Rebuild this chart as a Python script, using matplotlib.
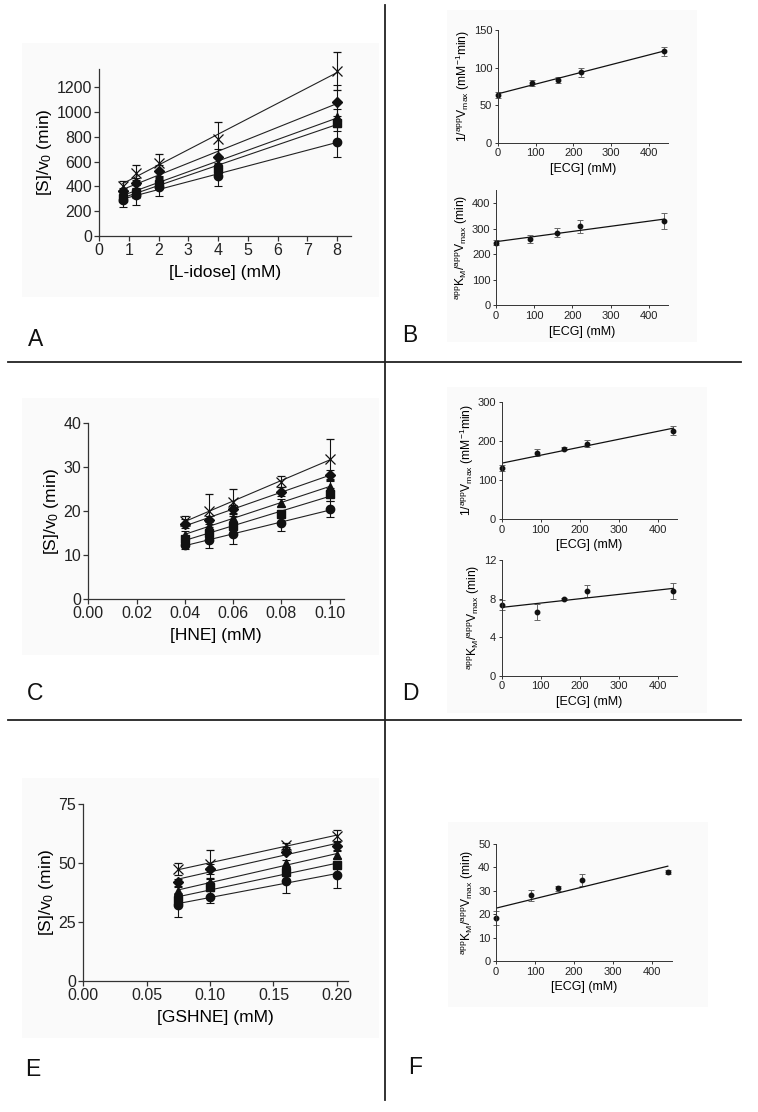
import matplotlib
matplotlib.use("Agg")
import matplotlib.pyplot as plt
import numpy as np
from matplotlib.patches import Rectangle
from matplotlib.lines import Line2D

plt.rcParams['font.family'] = ['Liberation Sans', 'DejaVu Sans']
plt.rcParams['mathtext.default'] = 'regular'

W, H = 758, 1112

# markers for the five inhibitor concentrations (bottom -> top)
markers = ['o', 's', '^', 'D', 'x']

# panel A: L-idose
a_x = [0.8, 1.25, 2, 4, 8]
a_y = [[290, 330, 395, 480, 760],
       [310, 350, 420, 540, 910],
       [330, 370, 440, 580, 960],
       [360, 430, 525, 640, 1080],
       [400, 510, 590, 780, 1330]]
a_err = [[60, 80, 70, 80, 120],
         [30, 40, 40, 50, 60],
         [30, 40, 40, 50, 60],
         [30, 40, 50, 60, 140],
         [40, 60, 70, 140, 150]]

# panel C: HNE
c_x = [0.04, 0.05, 0.06, 0.08, 0.10]
c_y = [[12.3, 13.4, 14.8, 17.3, 20.4],
       [13.6, 15.0, 16.6, 19.4, 23.8],
       [14.6, 16.6, 18.5, 21.9, 25.6],
       [17.1, 18.0, 20.4, 24.4, 28.2],
       [17.8, 20.1, 22.0, 26.7, 31.9]]
c_err = [[1.0, 1.8, 2.2, 1.8, 1.8],
         [0.8, 1.0, 1.0, 0.8, 1.5],
         [0.8, 1.0, 1.0, 0.8, 1.2],
         [1.0, 1.0, 1.0, 1.0, 1.2],
         [1.2, 3.8, 3.0, 1.3, 4.5]]

# panel E: GSHNE
e_x = [0.075, 0.10, 0.16, 0.20]
e_y = [[32.3, 35.8, 42.5, 44.9],
       [34.4, 40.0, 46.4, 49.1],
       [38.3, 41.9, 50.0, 53.5],
       [41.9, 47.5, 54.9, 57.3],
       [47.5, 49.7, 57.7, 61.7]]
e_err = [[5.0, 2.5, 5.2, 5.5],
         [1.5, 2.0, 1.5, 1.5],
         [1.5, 1.5, 1.5, 1.5],
         [1.5, 2.0, 1.0, 1.5],
         [2.5, 5.8, 1.0, 2.2]]

# secondary plots vs [ECG]
ecg = [0, 90, 160, 220, 440]
b1_y = [64, 79, 84, 94, 122]
b1_err = [4, 4, 4, 6, 6]
b2_y = [245, 260, 285, 310, 330]
b2_err = [10, 15, 18, 25, 30]
d1_y = [130, 170, 180, 193, 226]
d1_err = [8, 10, 4, 10, 12]
d2_y = [7.3, 6.6, 8.0, 8.8, 8.8]
d2_err = [0.5, 0.8, 0.1, 0.6, 0.8]
f_y = [18.5, 28, 31, 34.5, 38]
f_err = [3, 2.5, 1, 2.5, 1]

lbl_inv_vmax = r'1/$^{app}$V$_{max}$ (mM$^{-1}$min)'
lbl_km_vmax = r'$^{app}$K$_M$/$^{app}$V$_{max}$ (min)'

fig = plt.figure(figsize=(W / 100, H / 100), dpi=100)
fig.patch.set_facecolor('white')


def px_rect(l, t, r, b):
    return [l / W, 1 - b / H, (r - l) / W, (b - t) / H]


def bg(l, t, r, b):
    x0, y0, w, h = px_rect(l, t, r, b)
    fig.patches.append(Rectangle((x0, y0), w, h, transform=fig.transFigure,
                                 facecolor='#fafafa', edgecolor='none', zorder=-5))


def make_ax(l, t, r, b, big):
    ax = fig.add_axes(px_rect(l, t, r, b))
    ax.set_facecolor('none')
    for s in ['top', 'right']:
        ax.spines[s].set_visible(False)
    for s in ['left', 'bottom']:
        ax.spines[s].set_linewidth(0.9 if big else 0.7)
        ax.spines[s].set_color('#333333')
    ax.tick_params(direction='out', length=3.5 if big else 2.5,
                   width=0.9 if big else 0.7, color='#333333',
                   labelsize=11.5 if big else 8, labelcolor='#222222',
                   pad=1.5)
    return ax


def big_panel(ax, x, ys, errs):
    xs = np.array(x)
    for m, y, e in zip(markers, ys, errs):
        if m == 'x':
            ax.errorbar(x, y, yerr=e, fmt='x', ms=7.5, mew=0.9, color='#111111',
                        elinewidth=0.8, capsize=3, capthick=0.8, clip_on=False)
        else:
            ax.errorbar(x, y, yerr=e, fmt=m, ms=6 if m != 'D' else 5.5,
                        color='#111111', elinewidth=0.8, capsize=3,
                        capthick=0.8, clip_on=False)
        k, c0 = np.polyfit(xs, y, 1)
        ax.plot([xs[0], xs[-1]], [k * xs[0] + c0, k * xs[-1] + c0],
                color='#222222', lw=0.8)


def small_panel(ax, y, e):
    xs = np.array(ecg)
    ax.errorbar(ecg, y, yerr=e, fmt='o', ms=3.2, color='#111111',
                ecolor='#666666', elinewidth=0.7, capsize=2, capthick=0.7,
                clip_on=False)
    k, c0 = np.polyfit(xs, y, 1)
    ax.plot([0, 440], [c0, k * 440 + c0], color='#111111', lw=0.9)
    ax.set_xlim(0, 450)
    ax.set_xticks([0, 100, 200, 300, 400])


# backgrounds
bg(22, 43, 379, 297)
bg(22, 398, 379, 655)
bg(22, 778, 379, 1038)
bg(447, 10, 697, 342)
bg(447, 387, 707, 713)
bg(448, 822, 708, 1007)

# A
ax = make_ax(99, 69, 351, 236, True)
big_panel(ax, a_x, a_y, a_err)
ax.set_xlim(0, 8.47)
ax.set_ylim(0, 1346)
ax.set_xticks(range(0, 9))
ax.set_yticks(range(0, 1201, 200))
ax.set_xlabel('[L-idose] (mM)', fontsize=12.5, labelpad=5)
ax.set_ylabel(r'[S]/v$_0$ (min)', fontsize=12.5, labelpad=2)

# C
ax = make_ax(88.3, 423.3, 344, 599, True)
big_panel(ax, c_x, c_y, c_err)
ax.set_xlim(0, 0.106)
ax.set_ylim(0, 40)
ax.set_xticks([0, 0.02, 0.04, 0.06, 0.08, 0.10])
ax.set_xticklabels(['0.00', '0.02', '0.04', '0.06', '0.08', '0.10'])
ax.set_yticks([0, 10, 20, 30, 40])
ax.set_xlabel('[HNE] (mM)', fontsize=12.5, labelpad=5)
ax.set_ylabel(r'[S]/v$_0$ (min)', fontsize=12.5, labelpad=2)

# E
ax = make_ax(83.3, 804.3, 348.3, 981, True)
big_panel(ax, e_x, e_y, e_err)
ax.set_xlim(0, 0.209)
ax.set_ylim(0, 75)
ax.set_xticks([0, 0.05, 0.10, 0.15, 0.20])
ax.set_xticklabels(['0.00', '0.05', '0.10', '0.15', '0.20'])
ax.set_yticks([0, 25, 50, 75])
ax.set_xlabel('[GSHNE] (mM)', fontsize=12.5, labelpad=5)
ax.set_ylabel(r'[S]/v$_0$ (min)', fontsize=12.5, labelpad=2)

# B
ax = make_ax(497.7, 30, 668, 142.7, False)
small_panel(ax, b1_y, b1_err)
ax.set_ylim(0, 150)
ax.set_yticks([0, 50, 100, 150])
ax.set_xlabel('[ECG] (mM)', fontsize=9, labelpad=3.5)
ax.set_ylabel(lbl_inv_vmax, fontsize=8.7, labelpad=1.5)

ax = make_ax(496, 190, 668, 305.3, False)
small_panel(ax, b2_y, b2_err)
ax.set_ylim(0, 452)
ax.set_yticks([0, 100, 200, 300, 400])
ax.set_xlabel('[ECG] (mM)', fontsize=9, labelpad=3.5)
ax.set_ylabel(lbl_km_vmax, fontsize=8.7, labelpad=1.5)

# D
ax = make_ax(501.7, 401.7, 677, 519, False)
small_panel(ax, d1_y, d1_err)
ax.set_ylim(0, 300)
ax.set_yticks([0, 100, 200, 300])
ax.set_xlabel('[ECG] (mM)', fontsize=9, labelpad=3.5)
ax.set_ylabel(lbl_inv_vmax, fontsize=8.7, labelpad=1.5)

ax = make_ax(501.7, 560, 677, 675.7, False)
small_panel(ax, d2_y, d2_err)
ax.set_ylim(0, 12)
ax.set_yticks([0, 4, 8, 12])
ax.set_xlabel('[ECG] (mM)', fontsize=9, labelpad=3.5)
ax.set_ylabel(lbl_km_vmax, fontsize=8.7, labelpad=1.5)

# F
ax = make_ax(496, 844, 671.7, 961, False)
small_panel(ax, f_y, f_err)
ax.set_ylim(0, 50)
ax.set_yticks([0, 10, 20, 30, 40, 50])
ax.set_xlabel('[ECG] (mM)', fontsize=9, labelpad=3.5)
ax.set_ylabel(lbl_km_vmax, fontsize=8.7, labelpad=1.5)

# panel letters
for letter, (px, py) in zip('ABCDEF', [(36, 340), (410, 335), (35, 693),
                                       (410, 693), (33, 1070), (415, 1068)]):
    fig.text(px / W, 1 - py / H, letter, fontsize=16.5, ha='center', va='center',
             color='#111111')

# divider lines
fig.add_artist(Line2D([385 / W, 385 / W], [1 - 5 / H, 1 - 1100 / H],
                      transform=fig.transFigure, color='#222222', lw=1.3))
for yy in (362, 720):
    fig.add_artist(Line2D([8 / W, 741 / W], [1 - yy / H, 1 - yy / H],
                          transform=fig.transFigure, color='#222222', lw=1.3))

fig.savefig('out.png', dpi=100, facecolor='white')
